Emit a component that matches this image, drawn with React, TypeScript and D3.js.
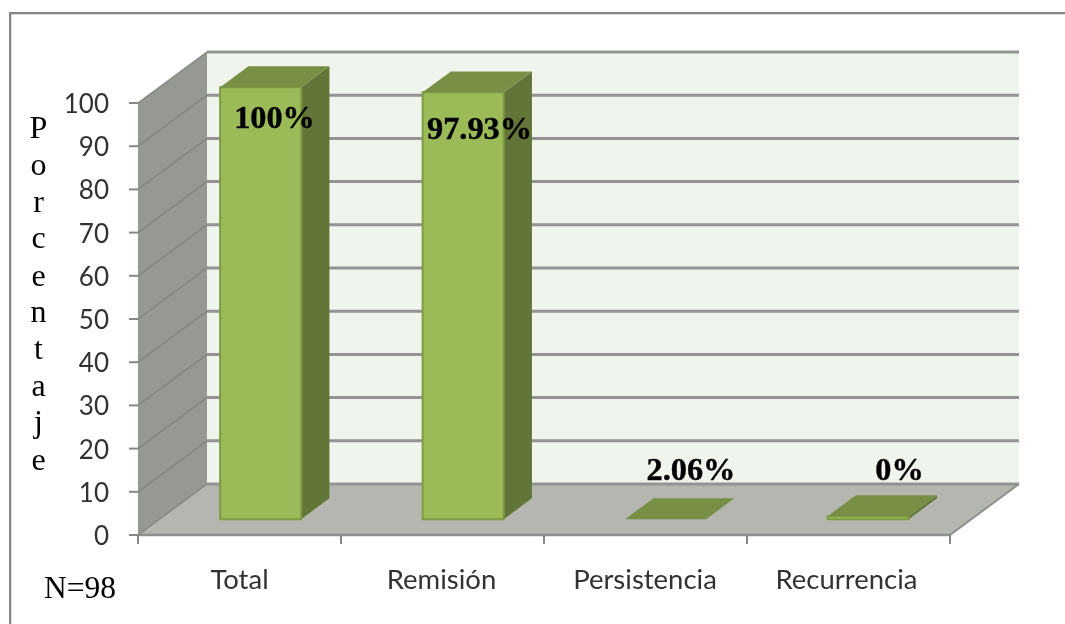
import React from "react";
import * as d3 from "d3";

const categories = ["Total", "Remisión", "Persistencia", "Recurrencia"];
const barValues = [100, 98.8, 0, 0.7];
const barLabels = ["100%", "97.93%", "2.06%", "0%"];
const yTicks = [0, 10, 20, 30, 40, 50, 60, 70, 80, 90, 100];
const axisTitle = ["P", "o", "r", "c", "e", "n", "t", "a", "j", "e"];
const titleY = [138, 175, 212, 248, 286, 322, 359, 396, 432, 470];
const labelPos = [[274.5, 128], [479.5, 139], [691, 480], [899.5, 480]];
const categoryX = [239.5, 441.5, 645, 846.5];

const W = 1065, H = 624;
const y = d3.scaleLinear().domain([0, 100]).range([535, 103]);
const x = d3.scaleBand<string>().domain(categories).range([138, 948]).paddingInner(0.6).paddingOuter(0.3);
const DX = 69, DY = -51;
const D0 = 0.31, D1 = 0.72;
const p = (fx: number, v: number, d: number): [number, number] => [fx + DX * d, y(v) + DY * d];
const poly = (pts: [number, number][]) => d3.line()(pts)! + "Z";
const sans = "Lato, 'Open Sans', sans-serif";
const serif = "'Liberation Serif', serif";

export default function App() {
  const xR = 950;
  const xL = 138;
  const boundaries = d3.range(0, categories.length + 1).map((i) => xL + ((xR - xL) * i) / categories.length);
  return (
    <svg width={W} height={H} style={{ position: "absolute", left: 0, top: 0 }}>
      <defs>
        <filter id="soft" x="0" y="0" width="100%" height="100%">
          <feGaussianBlur stdDeviation="0.5" />
        </filter>
      </defs>
      <rect width={W} height={H} fill="#fff" />
      <g filter="url(#soft)">
        <path d={`M9.5,${H} V12.5 H${W}`} fill="none" stroke="#858585" strokeWidth={3.5} />
        <path d={poly([p(xL, 100, 1), p(xR, 100, 1), p(xR, 0, 1), p(xL, 0, 1)])} fill="#eff4ec" />
        <path d={poly([p(xL, 0, 0), p(xL, 100, 0), p(xL, 100, 1), p(xL, 0, 1)])} fill="#969893" />
        <path d={poly([p(xL, 0, 0), p(xR, 0, 0), p(xR, 0, 1), p(xL, 0, 1)])} fill="#b4b6b0" />
        {yTicks.map((t) => (
          <g key={t}>
            <path d={d3.line()([p(xL, t, 0), p(xL, t, 1)])!} fill="none" stroke="#848582" strokeWidth={1.5} />
            <path d={d3.line()([p(xL, t, 1), p(xR, t, 1)])!} fill="none" stroke="#949593" strokeWidth={3} />
            <line x1={xL - 9} x2={xL} y1={y(t)} y2={y(t)} stroke="#868686" strokeWidth={2} />
            <text x={109} y={y(t) + 10} textAnchor="end" fontFamily={sans} fontSize={26} fill="#333">{t}</text>
          </g>
        ))}
        <path d={d3.line()([p(xR, 0, 0), p(xR, 0, 1)])!} stroke="#8f908d" strokeWidth={2} fill="none" />
        <line x1={xL} x2={xR} y1={y(0)} y2={y(0)} stroke="#8f908d" strokeWidth={2.5} />
        {boundaries.map((b) => (
          <line key={b} x1={b} x2={b} y1={y(0)} y2={y(0) + 9} stroke="#868686" strokeWidth={2} />
        ))}
        {categories.map((c, i) => {
          const x0 = x(c)!, x1 = x0 + x.bandwidth(), v = barValues[i];
          return (
            <g key={c}>
              <path d={poly([p(x1, 0, D0), p(x1, 0, D1), p(x1, v, D1), p(x1, v, D0)])} fill="#647537" />
              <path d={poly([p(x0, 0, D0), p(x1, 0, D0), p(x1, v, D0), p(x0, v, D0)])} fill="#9bbb59" stroke="#7f9c45" strokeWidth={v > 0 ? 2 : 0} />
              <path d={poly([p(x0, v, D0), p(x1, v, D0), p(x1, v, D1), p(x0, v, D1)])} fill="#788f45" />
            </g>
          );
        })}
        {categories.map((c, i) => (
          <text key={c} x={categoryX[i]} y={589} textAnchor="middle" fontFamily={sans} fontSize={27.5} fill="#333">{c}</text>
        ))}
        {barLabels.map((l, i) => (
          <text key={l} x={labelPos[i][0]} y={labelPos[i][1]} textAnchor="middle" fontFamily={serif} fontWeight="bold" fontSize={32.3} fill="#000" stroke="#000" strokeWidth={0.4}>{l}</text>
        ))}
        {axisTitle.map((l, i) => (
          <text key={i} x={38.5} y={titleY[i]} textAnchor="middle" fontFamily={serif} fontSize={32} fill="#000">{l}</text>
        ))}
        <text x={44} y={598} fontFamily={serif} fontSize={31.5} fill="#000">N=98</text>
      </g>
    </svg>
  );
}
